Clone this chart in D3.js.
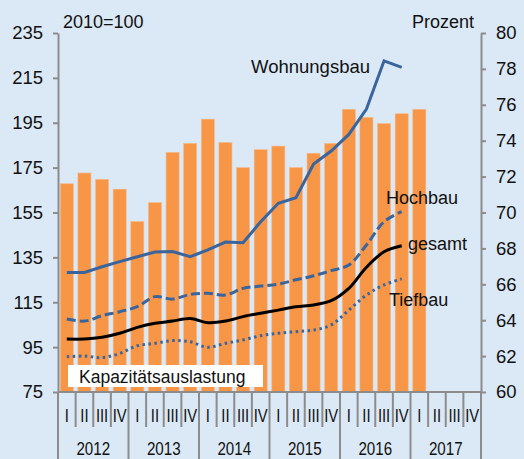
<!DOCTYPE html>
<html lang='de'>
<head>
  <meta charset="utf-8">
  <title>Baugewerbe</title>
  <script src='https://cdn.jsdelivr.net/npm/d3@7'></script>
  <style>
    body { margin: 0; background: #dbe8f5; }
    text { font-family: "Liberation Sans", Arial, sans-serif; fill: #111; }
  </style>
</head>
<body>
  <script>
    // quarters 2012 I .. 2017 IV
    let years = ["2012", "2013", "2014", "2015", "2016", "2017"];
    let quarterNames = ["I", "II", "III", "IV"];
    // Kapazitätsauslastung in Prozent (right axis), 2012 I .. 2017 I
    let kapazitaet = [71.6, 72.2, 71.85, 71.3, 69.5, 70.55, 73.35, 73.85, 75.2, 73.9, 72.5, 73.5,
      73.7, 72.5, 73.3, 73.85, 75.75, 75.3, 74.95, 75.5, 75.75];
    // indices 2010=100 (left axis), 2012 I .. 2016 IV
    let wohnungsbau = [128.3, 128.3, 130.8, 133.1, 135.3, 137.4, 137.6, 135.3, 138.3, 141.8, 141.5, 150.9,
      159.1, 161.6, 176.6, 182.4, 189.8, 201.1, 222.6, 219.7];
    let hochbau = [107.5, 106.6, 109, 110.8, 113, 117.5, 116.4, 118.5, 119, 118.2, 121.2, 122.2,
      123.1, 125, 126.8, 129.1, 131.6, 140.5, 150.9, 155.4];
    let gesamt = [98.6, 98.6, 99.4, 101.2, 103.8, 105.6, 106.6, 107.8, 105.9, 106.6, 108.6, 110.1,
      111.5, 113, 113.8, 115.7, 121.2, 130.6, 137.5, 140.2];
    let tiefbau = [90.7, 91, 90.3, 92.2, 95.6, 96.7, 97.9, 97.4, 94.9, 96.7, 98.2, 100.1,
      101.2, 101.9, 102.6, 104.9, 111.5, 118.2, 122.7, 125.4];
    let leftTicks = [75, 95, 115, 135, 155, 175, 195, 215, 235];
    let rightTicks = [60, 62, 64, 66, 68, 70, 72, 74, 76, 78, 80];

    let width = 524, height = 459;
    let plot = { left: 58, right: 481, top: 33, bottom: 392 };
    let grey = "#8c8c8c", blue = "#3a659c";

    let svg = d3.select("body").append("svg")
      .attr("width", width)
      .attr("height", height);

    let quarters = d3.range(years.length * 4);
    let x = d3.scaleBand().domain(quarters).range([plot.left, plot.right])
      .paddingInner(0.26).paddingOuter(0.13);
    let step = x.step();
    let cx = i => x(i) + x.bandwidth() / 2;
    let yL = d3.scaleLinear().domain([75, 235]).range([plot.bottom, plot.top]);
    let yR = d3.scaleLinear().domain([60, 80]).range([plot.bottom, plot.top]);

    // bars
    svg.selectAll(".bar").data(kapazitaet).join("rect")
      .attr("class", "bar")
      .attr("x", (d, i) => x(i))
      .attr("width", x.bandwidth())
      .attr("y", d => yR(d))
      .attr("height", d => yR(60) - yR(d))
      .attr("fill", "#f79646")
      .attr("stroke", "#f5b98a")
      .attr("stroke-width", 0.6);

    // label box
    svg.append("rect")
      .attr("x", 68).attr("y", 365).attr("width", 195).attr("height", 22)
      .attr("fill", "white");
    svg.append("text").text("Kapazitätsauslastung")
      .attr("x", 79).attr("y", 383)
      .style("font-size", "17.5px");

    // lines
    let smooth = d3.line().x((d, i) => cx(i)).y(d => yL(d)).curve(d3.curveCatmullRom.alpha(0.5));
    let straight = d3.line().x((d, i) => cx(i)).y(d => yL(d));
    let series = [
      { data: wohnungsbau, line: straight, color: blue, dash: null },
      { data: hochbau, line: smooth, color: blue, dash: "9,4" },
      { data: tiefbau, line: smooth, color: blue, dash: "2.5,3.5" },
      { data: gesamt, line: smooth, color: "#000", dash: null }
    ];
    svg.selectAll(".series").data(series).join("path")
      .attr("class", "series")
      .attr("d", d => d.line(d.data))
      .attr("fill", "none")
      .attr("stroke", d => d.color)
      .attr("stroke-width", 3)
      .attr("stroke-dasharray", d => d.dash);

    // axes
    let axisL = svg.append("g").attr("transform", `translate(${plot.left},0)`)
      .call(d3.axisLeft(yL).tickValues(leftTicks).tickSize(5).tickSizeOuter(0).tickPadding(10));
    let axisR = svg.append("g").attr("transform", `translate(${plot.right},0)`)
      .call(d3.axisRight(yR).tickValues(rightTicks).tickSize(5).tickSizeOuter(0).tickPadding(10));
    [axisL, axisR].forEach(g => {
      g.attr("font-family", null).attr("font-size", null);
      g.select(".domain").attr("stroke", grey).attr("stroke-width", 2);
      g.selectAll(".tick line").attr("stroke", grey).attr("stroke-width", 2);
      g.selectAll(".tick text").style("font-size", "18.5px").attr("fill", "#111");
    });

    // category axis
    let xa = svg.append("g");
    xa.append("line")
      .attr("x1", plot.left).attr("x2", plot.right).attr("y1", plot.bottom).attr("y2", plot.bottom)
      .attr("stroke", grey).attr("stroke-width", 2);
    xa.selectAll(".qsep").data(d3.range(quarters.length + 1)).join("line")
      .attr("class", "qsep")
      .attr("x1", i => plot.left + i * step).attr("x2", i => plot.left + i * step)
      .attr("y1", plot.bottom).attr("y2", i => i % 4 === 0 ? height : 427)
      .attr("stroke", grey).attr("stroke-width", 2);
    xa.selectAll(".qlab").data(quarters).join("text")
      .attr("class", "qlab")
      .text(i => quarterNames[i % 4])
      .attr("text-anchor", "middle")
      .attr("transform", i => `translate(${plot.left + (i + 0.5) * step},422) scale(0.8,1)`)
      .style("font-size", "18.5px");
    xa.selectAll(".ylab").data(years).join("text")
      .attr("class", "ylab")
      .text(d => d)
      .attr("text-anchor", "middle")
      .attr("transform", (d, i) => `translate(${plot.left + (i * 4 + 2) * step},455) scale(0.82,1)`)
      .style("font-size", "18.5px");

    // titles and series labels
    let labels = [
      { t: "2010=100", x: 63, y: 28, a: "start" },
      { t: "Prozent", x: 474, y: 28, a: "end" },
      { t: "Wohnungsbau", x: 370, y: 73, a: "end" },
      { t: "Hochbau", x: 386, y: 204, a: "start" },
      { t: "gesamt", x: 408, y: 250, a: "start" },
      { t: "Tiefbau", x: 389, y: 306, a: "start" }
    ];
    svg.selectAll(".lab").data(labels).join("text")
      .attr("class", "lab")
      .text(d => d.t)
      .attr("x", d => d.x).attr("y", d => d.y)
      .attr("text-anchor", d => d.a)
      .style("font-size", d => d.t === "Wohnungsbau" ? "18.5px" : "18px");
  </script>
</body>
</html>
